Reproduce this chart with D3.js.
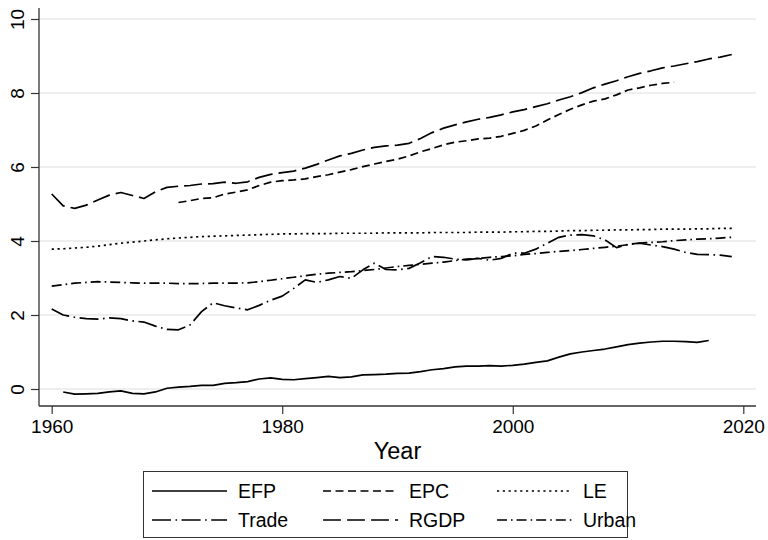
<!DOCTYPE html>
<html>
<head>
<meta charset="utf-8">
<script src="https://cdn.jsdelivr.net/npm/d3@7"></script>
<style>
  html, body { margin: 0; padding: 0; background: #fff; }
  svg text { font-family: "Liberation Sans", Arial, sans-serif; fill: #000; }
</style>
</head>
<body>
<svg id="chart" width="768" height="540"></svg>
<script>
// ---------- data ----------
const startYear = 1960;
const endYear = 2019;
const xTicks = [1960, 1980, 2000, 2020];
const yTicks = [0, 2, 4, 6, 8, 10];

// EFP 1961-2017
const efpStart = 1961;
const efp = [-0.08,-0.14,-0.13,-0.12,-0.08,-0.05,-0.12,-0.13,-0.08,0.02,
  0.05,0.07,0.10,0.10,0.15,0.17,0.20,0.27,0.30,0.26,
  0.25,0.28,0.31,0.34,0.31,0.33,0.38,0.39,0.40,0.42,
  0.43,0.47,0.52,0.55,0.60,0.62,0.62,0.63,0.62,0.64,
  0.67,0.72,0.76,0.86,0.95,1.00,1.04,1.08,1.14,1.20,
  1.24,1.27,1.29,1.29,1.28,1.26,1.31];

// EPC 1971-2014
const epcStart = 1971;
const epc = [5.04,5.09,5.15,5.17,5.27,5.32,5.38,5.50,5.59,5.63,
  5.65,5.68,5.74,5.79,5.86,5.93,6.01,6.08,6.15,6.21,
  6.30,6.41,6.50,6.60,6.67,6.71,6.76,6.78,6.83,6.91,
  6.99,7.11,7.27,7.42,7.56,7.68,7.78,7.84,7.95,8.08,
  8.14,8.21,8.26,8.29];

// LE 1960-2019
const leStart = 1960;
const le = [3.78,3.79,3.81,3.83,3.86,3.90,3.94,3.97,4.00,4.03,
  4.06,4.08,4.10,4.12,4.13,4.14,4.15,4.16,4.17,4.18,
  4.19,4.19,4.20,4.20,4.20,4.21,4.21,4.21,4.21,4.22,
  4.22,4.22,4.22,4.23,4.23,4.23,4.23,4.24,4.24,4.24,
  4.25,4.25,4.26,4.26,4.27,4.28,4.28,4.29,4.29,4.30,
  4.30,4.31,4.31,4.32,4.32,4.32,4.33,4.33,4.34,4.34];

// Trade 1960-2019
const tradeStart = 1960;
const trade = [2.16,2.00,1.94,1.90,1.89,1.92,1.90,1.84,1.81,1.70,
  1.61,1.60,1.73,2.09,2.33,2.25,2.19,2.14,2.26,2.40,
  2.51,2.72,2.95,2.88,2.95,3.04,2.99,3.22,3.40,3.23,
  3.22,3.26,3.41,3.58,3.56,3.51,3.49,3.53,3.48,3.53,
  3.67,3.67,3.78,3.94,4.10,4.16,4.17,4.14,4.03,3.82,
  3.91,3.94,3.89,3.85,3.78,3.69,3.64,3.63,3.62,3.58];

// RGDP 1960-2019
const rgdpStart = 1960;
const rgdp = [5.27,4.95,4.88,4.97,5.11,5.24,5.31,5.23,5.15,5.33,
  5.45,5.48,5.50,5.54,5.55,5.59,5.56,5.60,5.72,5.80,
  5.85,5.89,5.97,6.07,6.19,6.30,6.37,6.46,6.53,6.57,
  6.59,6.64,6.77,6.93,7.05,7.14,7.22,7.29,7.34,7.41,
  7.49,7.55,7.63,7.71,7.81,7.90,8.01,8.14,8.24,8.33,
  8.44,8.53,8.60,8.68,8.73,8.79,8.85,8.92,8.97,9.04];

// Urban 1960-2019
const urbanStart = 1960;
const urban = [2.78,2.82,2.86,2.88,2.90,2.89,2.88,2.87,2.86,2.86,
  2.86,2.85,2.85,2.85,2.86,2.86,2.86,2.87,2.90,2.94,
  2.98,3.02,3.06,3.10,3.13,3.15,3.17,3.20,3.23,3.27,
  3.31,3.34,3.37,3.40,3.43,3.47,3.51,3.53,3.56,3.58,
  3.60,3.64,3.66,3.69,3.72,3.74,3.77,3.80,3.83,3.86,
  3.90,3.94,3.96,3.98,4.01,4.03,4.05,4.06,4.08,4.10];

const seriesNames = ["EFP", "EPC", "LE", "Trade", "RGDP", "Urban"];

// ---------- styles ----------
const dashes = {
  EFP: null,
  EPC: "8,4.5",
  LE: "2.2,3.6",
  Trade: "19,4.5,1.6,4.5",
  RGDP: "18,6",
  Urban: "10,4,1.6,4"
};

const series = [
  {name: "EFP", start: efpStart, values: efp},
  {name: "EPC", start: epcStart, values: epc},
  {name: "LE", start: leStart, values: le},
  {name: "Trade", start: tradeStart, values: trade},
  {name: "RGDP", start: rgdpStart, values: rgdp},
  {name: "Urban", start: urbanStart, values: urban}
].map(s => ({name: s.name, points: s.values.map((v, i) => ({year: s.start + i, value: v}))}));

// ---------- layout ----------
const svg = d3.select("#chart");
svg.append("rect").attr("width", 768).attr("height", 540).attr("fill", "#fff");

const plotLeft = 39, plotRight = 756, plotTop = 8, plotBottom = 406;
const x = d3.scaleLinear().domain([1960, 2020]).range([51.7, 743.3]);
const y = d3.scaleLinear().domain([0, 10]).range([389, 19]);

// gridlines
svg.append("g").selectAll("line").data(yTicks).join("line")
  .attr("x1", plotLeft).attr("x2", plotRight)
  .attr("y1", d => y(d)).attr("y2", d => y(d))
  .attr("stroke", "#e8e8e8").attr("stroke-width", 1.4);

// y axis
const yAxis = d3.axisLeft(y).tickValues(yTicks).tickSize(8).tickPadding(0).tickFormat(d3.format("d"));
const gy = svg.append("g").attr("transform", `translate(${plotLeft},0)`).call(yAxis);
gy.select(".domain").remove();
gy.selectAll(".tick line").attr("stroke", "#333").attr("stroke-width", 1.2);
gy.selectAll(".tick text")
  .attr("x", 0).attr("dy", null)
  .attr("text-anchor", "middle")
  .attr("transform", "translate(-15,0) rotate(-90)")
  .style("font-size", "19px")
  .attr("fill", "#000");
gy.append("line").attr("x1", 0).attr("x2", 0).attr("y1", plotTop).attr("y2", plotBottom)
  .attr("stroke", "#333").attr("stroke-width", 1.3);

// x axis
const xAxis = d3.axisBottom(x).tickValues(xTicks).tickSize(8).tickPadding(6).tickFormat(d3.format("d"));
const gx = svg.append("g").attr("transform", `translate(0,${plotBottom})`).call(xAxis);
gx.select(".domain").remove();
gx.selectAll(".tick line").attr("stroke", "#333").attr("stroke-width", 1.2);
gx.selectAll(".tick text").style("font-size", "19px").attr("fill", "#000");
gx.append("line").attr("x1", plotLeft).attr("x2", plotRight).attr("y1", 0).attr("y2", 0)
  .attr("stroke", "#333").attr("stroke-width", 1.3);

// axis title
svg.append("text").attr("x", (plotLeft + plotRight) / 2).attr("y", 459)
  .attr("text-anchor", "middle").style("font-size", "23.5px").text("Year");

// lines
const line = d3.line()
  .defined(d => d.value != null)
  .x(d => x(d.year)).y(d => y(d.value));

svg.append("g").selectAll("path").data(series).join("path")
  .attr("d", d => line(d.points))
  .attr("fill", "none")
  .attr("stroke", "#000")
  .attr("stroke-width", 1.7)
  .attr("stroke-linejoin", "round")
  .attr("stroke-dasharray", d => dashes[d.name]);

// legend
const lg = svg.append("g");
lg.append("rect").attr("x", 143.5).attr("y", 471.5).attr("width", 484).attr("height", 66)
  .attr("fill", "#fff").attr("stroke", "#333").attr("stroke-width", 1);
const colX = [152, 323, 497];
const rowY = [491, 520];
seriesNames.forEach((name, i) => {
  const c = i % 3, r = Math.floor(i / 3);
  lg.append("line")
    .attr("x1", colX[c]).attr("x2", colX[c] + 75)
    .attr("y1", rowY[r]).attr("y2", rowY[r])
    .attr("stroke", "#000").attr("stroke-width", 1.7)
    .attr("stroke-dasharray", dashes[name]);
  lg.append("text")
    .attr("x", colX[c] + 86).attr("y", rowY[r])
    .attr("dy", "0.35em")
    .style("font-size", "19.5px")
    .text(name);
});
</script>
</body>
</html>
